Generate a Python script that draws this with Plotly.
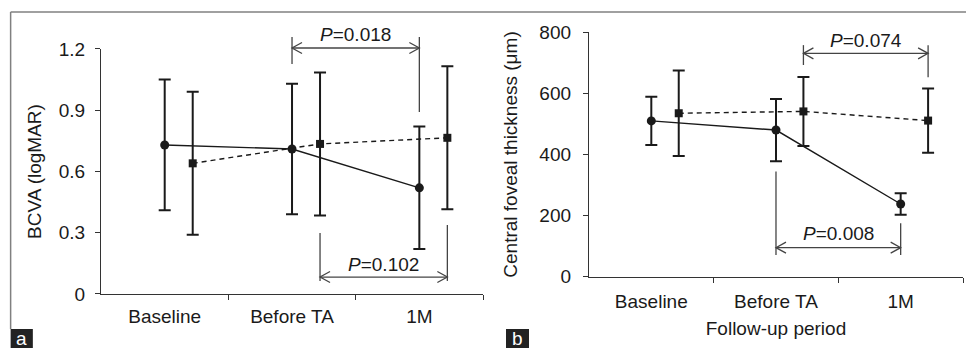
import plotly.graph_objects as go

# ---------------- data ----------------
categories = ["Baseline", "Before TA", "1M"]

bcva_circle = [0.73, 0.71, 0.52]
bcva_circle_sd = [0.32, 0.32, 0.30]
bcva_square = [0.64, 0.735, 0.765]
bcva_square_sd = [0.35, 0.35, 0.35]

cft_circle = [510, 480, 238]
cft_circle_sd = [79, 102, 35]
cft_square = [535, 541, 511]
cft_square_sd = [140, 113, 105]

bcva_ticks = [0, 0.3, 0.6, 0.9, 1.2]
bcva_ticktext = ["0", "0.3", "0.6", "0.9", "1.2"]
cft_ticks = [0, 200, 400, 600, 800]

# brackets: (text, series, x-from index, x-to index, arrow y, left line (y0,y1), right line (y0,y1), text y)
bcva_brackets = [
    ("<i>P</i>=0.018", "circle", 1, 2, 1.205, (1.126, 1.259), (0.891, 1.259), 1.271),
    ("<i>P</i>=0.102", "square", 1, 2, 0.083, (0.064, 0.299), (0.064, 0.338), 0.143),
]
cft_brackets = [
    ("<i>P</i>=0.074", "square", 1, 2, 731, (693, 758), (653, 758), 772),
    ("<i>P</i>=0.008", "circle", 1, 2, 95, (71, 344), (71, 175), 142),
]

# ---------------- style ----------------
FONT = "Arial, Liberation Sans, sans-serif"
FS = 19
INK = "#1a1a1a"
AX = "#333333"
BR = "#444444"
OFFSET = 0.22  # horizontal offset of the square series within a category

xi = list(range(len(categories)))
xs = [v + OFFSET for v in xi]

fig = go.Figure()


def add_pair(xaxis, yaxis, yc, ycs, ysq, ysqs):
    fig.add_trace(go.Scatter(
        x=xi, y=yc, xaxis=xaxis, yaxis=yaxis, mode="lines+markers",
        line=dict(color=INK, width=1.4),
        marker=dict(symbol="circle", size=9, color=INK),
        error_y=dict(type="data", array=ycs, thickness=2, width=6, color=INK),
        showlegend=False, cliponaxis=False))
    fig.add_trace(go.Scatter(
        x=xs, y=ysq, xaxis=xaxis, yaxis=yaxis, mode="lines+markers",
        line=dict(color=INK, width=1.4, dash="5px,4px"),
        marker=dict(symbol="square", size=8, color=INK),
        error_y=dict(type="data", array=ysqs, thickness=2, width=6, color=INK),
        showlegend=False, cliponaxis=False))


add_pair("x", "y", bcva_circle, bcva_circle_sd, bcva_square, bcva_square_sd)
add_pair("x2", "y2", cft_circle, cft_circle_sd, cft_square, cft_square_sd)


def add_brackets(brackets, xref, yref, ymax):
    for text, series, i0, i1, ya, left, right, yt in brackets:
        off = OFFSET if series == "square" else 0.0
        x0 = i0 + off
        x1 = i1 + off
        d = lambda v: v / ymax
        line = dict(color=BR, width=1.3)
        fig.add_shape(type="line", xref=xref, yref=yref + " domain",
                      x0=x0, x1=x1, y0=d(ya), y1=d(ya), line=line)
        fig.add_shape(type="line", xref=xref, yref=yref + " domain",
                      x0=x0, x1=x0, y0=d(left[0]), y1=d(left[1]), line=line)
        fig.add_shape(type="line", xref=xref, yref=yref + " domain",
                      x0=x1, x1=x1, y0=d(right[0]), y1=d(right[1]), line=line)
        fig.add_shape(type="path", xref=xref, yref=yref + " domain",
                      xsizemode="pixel", ysizemode="pixel",
                      xanchor=x0, yanchor=d(ya),
                      path="M 10 5.5 L 0 0 L 10 -5.5", line=line)
        fig.add_shape(type="path", xref=xref, yref=yref + " domain",
                      xsizemode="pixel", ysizemode="pixel",
                      xanchor=x1, yanchor=d(ya),
                      path="M -10 5.5 L 0 0 L -10 -5.5", line=line)
        fig.add_annotation(x=(x0 + x1) / 2, y=d(yt), xref=xref, yref=yref + " domain",
                           text=text, showarrow=False, xanchor="center", yanchor="middle",
                           font=dict(family=FONT, size=FS, color=INK))


add_brackets(bcva_brackets, "x", "y", bcva_ticks[-1])
add_brackets(cft_brackets, "x2", "y2", cft_ticks[-1])


def xcommon(tl):
    return dict(
        range=[-0.5, 2.5], tickmode="array", tickvals=xi, ticktext=categories,
        ticks="outside", ticklen=tl, tickcolor="rgba(0,0,0,0)",
        showline=True, linecolor=AX, linewidth=1.3, showgrid=False, zeroline=False,
        tickfont=dict(family=FONT, size=FS, color=INK),
        minor=dict(tickmode="array", tickvals=[0.5, 1.5, 2.5], ticks="outside",
                   ticklen=5, tickcolor=AX, tickwidth=1.3, showgrid=False),
    )


def ycommon(so):
    return dict(
        tickmode="array", ticks="outside", ticklen=5, tickcolor=AX, tickwidth=1.3,
        ticklabelstandoff=so,
        showline=True, linecolor=AX, linewidth=1.3, showgrid=False, zeroline=False,
        tickfont=dict(family=FONT, size=FS, color=INK),
    )


fig.update_layout(
    width=966, height=348,
    margin=dict(l=0, r=0, t=0, b=0, pad=0, autoexpand=False),
    paper_bgcolor="white", plot_bgcolor="white",
    font=dict(family=FONT, size=FS, color=INK),
    xaxis=dict(domain=[0.1046, 0.5], anchor="y", **xcommon(5)),
    yaxis=dict(domain=[0.1552, 0.8592], anchor="x", range=[0, 1.2],
               tickvals=bcva_ticks, ticktext=bcva_ticktext,
               title=dict(text="BCVA (logMAR)", font=dict(family=FONT, size=FS, color=INK), standoff=12),
               **ycommon(6)),
    xaxis2=dict(domain=[0.6097, 0.9969], anchor="y2",
                title=dict(text="Follow-up period", font=dict(family=FONT, size=FS, color=INK), standoff=11),
                **xcommon(7)),
    yaxis2=dict(domain=[0.2049, 0.9072], anchor="x2", range=[0, 800],
                tickvals=cft_ticks, ticktext=[str(v) for v in cft_ticks],
                title=dict(text="Central foveal thickness (μm)", font=dict(family=FONT, size=FS, color=INK), standoff=16),
                **ycommon(8)),
)

frame = dict(color="#808080", width=1.5)
fig.add_shape(type="line", xref="paper", yref="paper", x0=0.011, x1=1.0, y0=0.9655, y1=0.9655, line=frame)
fig.add_shape(type="line", xref="paper", yref="paper", x0=0.011, x1=0.011, y0=0.0546, y1=0.9655, line=frame)
for lbl, xa, xb in [("a", 0.011, 0.034), ("b", 0.5238, 0.5476)]:
    fig.add_shape(type="rect", xref="paper", yref="paper", x0=xa, x1=xb, y0=0, y1=0.0546,
                  fillcolor="#222222", line=dict(width=0))
    fig.add_annotation(xref="paper", yref="paper", x=(xa + xb) / 2, y=0.0273, text=lbl,
                       showarrow=False, xanchor="center", yanchor="middle",
                       font=dict(family=FONT, size=19, color="white"))

fig.write_html(
    "out.html",
    config={"displayModeBar": False},
    post_script="document.body.style.margin='0';document.body.style.padding='0';"
                "document.documentElement.style.overflow='hidden';document.body.style.overflow='hidden';",
)
